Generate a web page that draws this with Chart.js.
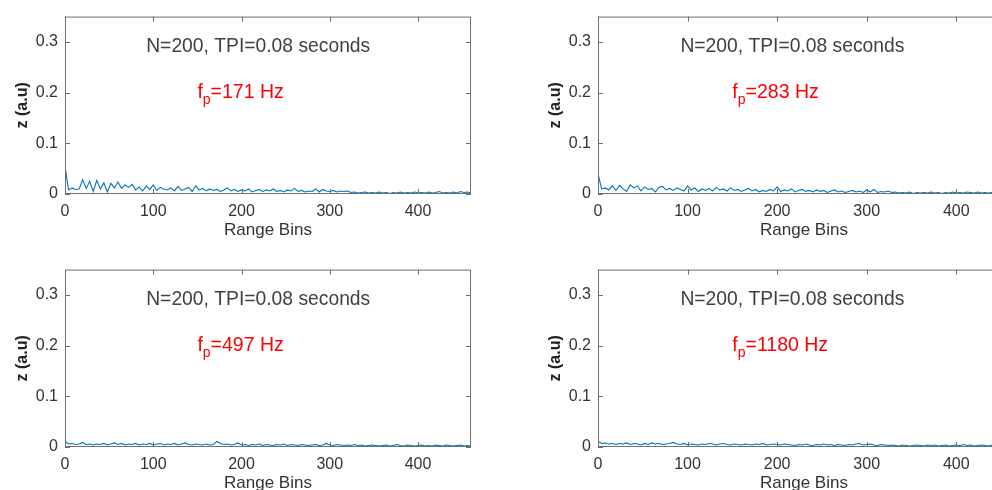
<!DOCTYPE html>
<html>
<head>
<meta charset="utf-8">
<script src="https://cdn.jsdelivr.net/npm/chart.js@4.4.1/dist/chart.umd.min.js"></script>
<style>
    html, body { margin: 0; padding: 0; background: #fff; overflow: hidden; width: 992px; height: 490px; }
    .cell { position: absolute; }
</style>
</head>
<body>
<div class="cell" style="left:0;top:0;width:480px;height:250px"><canvas id="c1"></canvas></div>
<div class="cell" style="left:520px;top:0;width:499px;height:250px"><canvas id="c2"></canvas></div>
<div class="cell" style="left:0;top:253px;width:480px;height:250px"><canvas id="c3"></canvas></div>
<div class="cell" style="left:520px;top:253px;width:499px;height:250px"><canvas id="c4"></canvas></div>
<script>
// Range bins sampled every 4 bins, 0..460
const binStep = 4;
const xTicks = [0, 100, 200, 300, 400];
const yTicks = [0, 0.1, 0.2, 0.3];
const headerText = 'N=200, TPI=0.08 seconds';
const freqLabels = ['171 Hz', '283 Hz', '497 Hz', '1180 Hz'];

const s171 = [
    0.055, 0.008, 0.012, 0.009, 0.010, 0.028, 0.011, 0.025, 0.005, 0.027,
    0.010, 0.022, 0.004, 0.021, 0.012, 0.024, 0.011, 0.018, 0.013, 0.019,
    0.008, 0.014, 0.006, 0.016, 0.009, 0.018, 0.007, 0.013, 0.010, 0.008,
    0.012, 0.006, 0.015, 0.007, 0.010, 0.013, 0.005, 0.016, 0.008, 0.011,
    0.006, 0.010, 0.007, 0.009, 0.005, 0.008, 0.012, 0.006, 0.009, 0.005,
    0.008, 0.006, 0.010, 0.004, 0.007, 0.009, 0.005, 0.008, 0.006, 0.010,
    0.005, 0.007, 0.004, 0.008, 0.006, 0.011, 0.005, 0.007, 0.004, 0.006,
    0.005, 0.010, 0.004, 0.009, 0.006, 0.005, 0.007, 0.004, 0.006, 0.005,
    0.006, 0.003, 0.004, 0.002, 0.003, 0.004, 0.002, 0.003, 0.002, 0.004,
    0.002, 0.003, 0.001, 0.003, 0.002, 0.004, 0.002, 0.003, 0.002, 0.004,
    0.002, 0.003, 0.002, 0.004, 0.002, 0.003, 0.005, 0.002, 0.003, 0.002,
    0.004, 0.002, 0.005, 0.003, 0.004, 0.002,
];
const s283 = [
    0.040, 0.010, 0.012, 0.008, 0.016, 0.007, 0.017, 0.010, 0.005, 0.018,
    0.012, 0.016, 0.006, 0.014, 0.009, 0.011, 0.004, 0.013, 0.015, 0.008,
    0.011, 0.007, 0.012, 0.009, 0.006, 0.016, 0.008, 0.012, 0.005, 0.010,
    0.007, 0.011, 0.006, 0.013, 0.008, 0.010, 0.006, 0.012, 0.007, 0.009,
    0.005, 0.008, 0.011, 0.006, 0.009, 0.004, 0.007, 0.005, 0.009, 0.006,
    0.014, 0.005, 0.008, 0.006, 0.010, 0.004, 0.007, 0.009, 0.005, 0.007,
    0.004, 0.008, 0.005, 0.007, 0.003, 0.006, 0.008, 0.004, 0.006, 0.003,
    0.005, 0.007, 0.004, 0.006, 0.003, 0.008, 0.004, 0.009, 0.003, 0.005,
    0.004, 0.006, 0.003, 0.004, 0.002, 0.003, 0.002, 0.004, 0.001, 0.003,
    0.002, 0.003, 0.002, 0.004, 0.002, 0.003, 0.001, 0.003, 0.002, 0.004,
    0.002, 0.003, 0.002, 0.004, 0.003, 0.002, 0.004, 0.002, 0.003, 0.002,
    0.003, 0.002, 0.004, 0.002, 0.003, 0.002,
];
const s497 = [
    0.012, 0.006, 0.007, 0.005, 0.006, 0.009, 0.005, 0.006, 0.004, 0.006,
    0.005, 0.007, 0.004, 0.006, 0.008, 0.005, 0.007, 0.004, 0.006, 0.005,
    0.007, 0.004, 0.006, 0.005, 0.007, 0.004, 0.006, 0.007, 0.004, 0.006,
    0.005, 0.007, 0.004, 0.006, 0.008, 0.005, 0.004, 0.006, 0.005, 0.004,
    0.006, 0.004, 0.005, 0.011, 0.007, 0.005, 0.006, 0.004, 0.005, 0.008,
    0.004, 0.005, 0.003, 0.005, 0.004, 0.006, 0.003, 0.005, 0.004, 0.003,
    0.005, 0.004, 0.006, 0.003, 0.005, 0.004, 0.003, 0.005, 0.004, 0.003,
    0.004, 0.005, 0.003, 0.004, 0.007, 0.004, 0.003, 0.005, 0.004, 0.003,
    0.004, 0.003, 0.005, 0.003, 0.004, 0.002, 0.003, 0.004, 0.003, 0.002,
    0.003, 0.004, 0.002, 0.003, 0.005, 0.003, 0.002, 0.004, 0.003, 0.002,
    0.003, 0.004, 0.002, 0.003, 0.002, 0.004, 0.003, 0.002, 0.004, 0.003,
    0.002, 0.003, 0.004, 0.002, 0.003, 0.002,
];
const s1180 = [
    0.012, 0.007, 0.008, 0.006, 0.007, 0.005, 0.007, 0.006, 0.008, 0.005,
    0.007, 0.006, 0.004, 0.007, 0.005, 0.008, 0.006, 0.007, 0.005, 0.006,
    0.007, 0.009, 0.006, 0.005, 0.007, 0.004, 0.006, 0.005, 0.004, 0.006,
    0.005, 0.007, 0.006, 0.004, 0.006, 0.007, 0.005, 0.004, 0.006, 0.005,
    0.004, 0.006, 0.005, 0.004, 0.006, 0.005, 0.007, 0.004, 0.005, 0.006,
    0.005, 0.004, 0.006, 0.005, 0.004, 0.003, 0.005, 0.004, 0.006, 0.004,
    0.003, 0.005, 0.004, 0.006, 0.004, 0.005, 0.003, 0.005, 0.004, 0.003,
    0.005, 0.004, 0.006, 0.007, 0.004, 0.005, 0.006, 0.004, 0.003, 0.005,
    0.004, 0.003, 0.004, 0.003, 0.002, 0.004, 0.003, 0.002, 0.003, 0.004,
    0.003, 0.002, 0.004, 0.003, 0.004, 0.002, 0.003, 0.004, 0.002, 0.003,
    0.004, 0.003, 0.005, 0.003, 0.004, 0.002, 0.003, 0.004, 0.003, 0.002,
    0.004, 0.003, 0.002, 0.004, 0.003, 0.002,
];

const FONT = "'Liberation Sans', Arial, sans-serif";
const AXIS_COLOR = '#6e6e6e';
const TEXT_COLOR = '#333333';

// рамка и внутренние засечки как в MATLAB
const boxPlugin = {
    id: 'box',
    afterDatasetsDraw(chart) {
        const { ctx, chartArea: a, scales } = chart;
        ctx.save();
        ctx.strokeStyle = AXIS_COLOR;
        ctx.lineWidth = 1;
        ctx.strokeRect(a.left + 0.5, a.top + 0.5, a.right - a.left - 1, a.bottom - a.top - 1);
        const len = 5;
        ctx.beginPath();
        xTicks.forEach((v) => {
            const px = Math.round(scales.x.getPixelForValue(v)) + 0.5;
            ctx.moveTo(px, a.bottom); ctx.lineTo(px, a.bottom - len);
            ctx.moveTo(px, a.top); ctx.lineTo(px, a.top + len);
        });
        yTicks.forEach((v) => {
            const py = Math.round(scales.y.getPixelForValue(v)) + 0.5;
            ctx.moveTo(a.left, py); ctx.lineTo(a.left + len, py);
            ctx.moveTo(a.right, py); ctx.lineTo(a.right - len, py);
        });
        ctx.stroke();
        ctx.restore();
    },
};

// надписи внутри графика
const notePlugin = {
    id: 'note',
    afterDatasetsDraw(chart, args, opts) {
        const { ctx, scales } = chart;
        ctx.save();
        ctx.textBaseline = 'middle';
        ctx.textAlign = 'left';
        ctx.font = `19.3px ${FONT}`;
        ctx.fillStyle = '#404040';
        ctx.fillText(headerText, scales.x.getPixelForValue(92), scales.y.getPixelForValue(0.29));

        let x = scales.x.getPixelForValue(150);
        const y = scales.y.getPixelForValue(0.2);
        ctx.fillStyle = '#ff0000';
        ctx.font = `19.5px ${FONT}`;
        ctx.fillText('f', x, y);
        x += ctx.measureText('f').width;
        ctx.font = `14px ${FONT}`;
        ctx.fillText('p', x, y + 8);
        x += ctx.measureText('p').width;
        ctx.font = `19.5px ${FONT}`;
        ctx.fillText('=' + opts.freq, x, y);
        ctx.restore();
    },
};

const makeChart = (id, values, freq, padLeft, yWidth) => {
    const points = values.map((v, i) => ({ x: i * binStep, y: v }));
    return new Chart(document.getElementById(id), {
        type: 'line',
        data: {
            datasets: [{
                data: points,
                borderColor: '#0072BD',
                borderWidth: 1.1,
                pointRadius: 0,
                tension: 0,
                fill: false,
            }],
        },
        options: {
            responsive: true,
            maintainAspectRatio: false,
            animation: false,
            events: [],
            layout: { padding: { left: padLeft, right: 9, top: 14, bottom: 9 } },
            plugins: {
                legend: { display: false },
                tooltip: { enabled: false },
                note: { freq },
            },
            scales: {
                x: {
                    type: 'linear',
                    min: 0,
                    max: 460,
                    grid: { display: false, drawTicks: false },
                    border: { display: false },
                    afterBuildTicks: (s) => { s.ticks = xTicks.map((v) => ({ value: v })); },
                    afterFit: (s) => { s.height = 47; },
                    ticks: {
                        color: TEXT_COLOR,
                        font: { family: FONT, size: 16 },
                        padding: 8,
                        maxRotation: 0,
                        callback: (v) => String(v),
                    },
                    title: {
                        display: true,
                        text: 'Range Bins',
                        color: TEXT_COLOR,
                        font: { family: FONT, size: 17 },
                        padding: { top: 0, bottom: 0 },
                    },
                },
                y: {
                    min: 0,
                    max: 0.35,
                    grid: { display: false, drawTicks: false },
                    border: { display: false },
                    afterBuildTicks: (s) => { s.ticks = yTicks.map((v) => ({ value: v })); },
                    afterFit: (s) => { s.width = yWidth; },
                    ticks: {
                        color: TEXT_COLOR,
                        font: { family: FONT, size: 16 },
                        padding: 7,
                        callback: (v) => String(v),
                    },
                    title: {
                        display: true,
                        text: 'z (a.u)',
                        color: '#222',
                        font: { family: FONT, size: 16, weight: 'bold' },
                        padding: 0,
                    },
                },
            },
        },
        plugins: [boxPlugin, notePlugin],
    });
};

document.addEventListener('DOMContentLoaded', () => {
    makeChart('c1', s171, freqLabels[0], 13, 52);
    makeChart('c2', s283, freqLabels[1], 26, 52);
    makeChart('c3', s497, freqLabels[2], 13, 52);
    makeChart('c4', s1180, freqLabels[3], 26, 52);
});
</script>
</body>
</html>
